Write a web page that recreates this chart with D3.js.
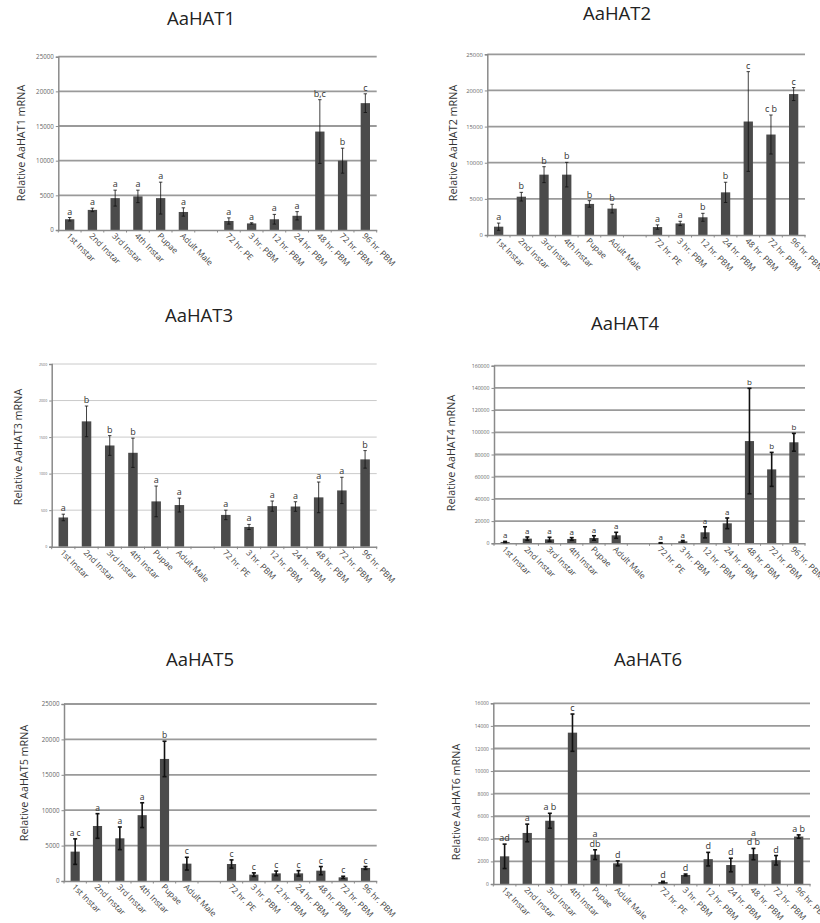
<!DOCTYPE html>
<html><head><meta charset="utf-8">
<script src="https://cdn.jsdelivr.net/npm/d3@7"></script>
<style>body{margin:0;background:#fff}svg{display:block}</style>
</head><body>
<svg id="chart" width="820" height="923"></svg>
<script>
// ---------------- DATA ----------------
const categories = ["1st Instar","2nd Instar","3rd Instar","4th Instar","Pupae","Adult Male","",
  "72 hr. PE","3 hr. PBM","12 hr. PBM","24 hr. PBM","48 hr. PBM","72 hr. PBM","96 hr. PBM"];

const hat1Values = [1550,2900,4600,4850,4600,2600,null,1300,950,1550,2050,14200,10000,18300];
const hat1Errors = [250,250,1150,900,2300,600,null,450,100,700,600,4600,1800,1350];
const hat1Letters = ["a","a","a","a","a","a","","a","a","a","a","b,c","b","c"];
const hat1Ticks = [0,5000,10000,15000,20000,25000];

const hat2Values = [1150,5300,8350,8350,4300,3650,null,1100,1600,2450,5900,15700,13900,19500];
const hat2Errors = [500,600,1100,1700,450,600,null,300,300,550,1400,6900,2700,900];
const hat2Letters = ["a","b","b","b","b","b","","a","a","b","b","c","c b","c"];
const hat2Ticks = [0,5000,10000,15000,20000,25000];

const hat3Values = [400,1715,1385,1285,620,570,null,435,270,555,550,675,770,1195];
const hat3Errors = [45,210,135,200,210,95,null,65,35,70,65,210,180,120];
const hat3Letters = ["a","b","b","b","a","a","","a","a","a","a","a","a","b"];
const hat3Ticks = [0,500,1000,1500,2000,2500];

const hat4Values = [1200,4200,3600,3900,4800,7200,null,300,1800,9900,18000,92100,66600,91000];
const hat4Errors = [500,1500,1800,1200,2000,2700,null,200,700,5000,4800,47500,15300,8000];
const hat4Letters = ["a","a","a","a","a","a","","a","a","a","a","b","b","b"];
const hat4Ticks = [0,20000,40000,60000,80000,100000,120000,140000,160000];

const hat5Values = [4150,7770,6030,9300,17240,2450,null,2400,900,1080,1080,1460,520,1840];
const hat5Errors = [1800,1740,1600,1750,2500,900,null,580,250,330,380,580,150,200];
const hat5Letters = ["a c","a","a","a","b","c","","c","c","c","c","c","c","c"];
const hat5Ticks = [0,5000,10000,15000,20000,25000];

const hat6Values = [2450,4520,5600,13400,2600,1830,null,180,800,2200,1680,2650,2100,4200];
const hat6Errors = [1080,780,660,1650,430,220,null,60,80,600,600,500,420,150];
const hat6Letters = ["ad","a","a b","c","a\ndb","d","","d","d","d","d","a\nd b","d","a b"];
const hat6Ticks = [0,2000,4000,6000,8000,10000,12000,14000,16000];

// ---------------- LAYOUT ----------------
const panels = [
  {title:"AaHAT1", v:hat1Values, e:hat1Errors, l:hat1Letters, t:hat1Ticks,
   left:58.3, right:376.7, top:56.7, bottom:230, titleX:201, titleY:25, yTitleX:21.7, yTitleY:143,
   thinGrid:false, errW:0.8, capW:3.4, tickFont:6.2, letterFont:9},
  {title:"AaHAT2", v:hat2Values, e:hat2Errors, l:hat2Letters, t:hat2Ticks,
   left:487.3, right:805, top:54.3, bottom:235, titleX:617, titleY:20, yTitleX:453, yTitleY:143,
   thinGrid:false, errW:0.8, capW:3.4, tickFont:5.8, letterFont:9},
  {title:"AaHAT3", v:hat3Values, e:hat3Errors, l:hat3Letters, t:hat3Ticks,
   left:51.7, right:376.7, top:364, bottom:546.7, titleX:199, titleY:322, yTitleX:18.3, yTitleY:447,
   thinGrid:true, errW:0.8, capW:3.4, tickFont:3.6, letterFont:9},
  {title:"AaHAT4", v:hat4Values, e:hat4Errors, l:hat4Letters, t:hat4Ticks,
   left:494, right:805, top:365.7, bottom:543.3, titleX:625, titleY:330, yTitleX:451.7, yTitleY:453,
   thinGrid:false, errW:1.6, capW:4, tickFont:5.2, letterFont:8},
  {title:"AaHAT5", v:hat5Values, e:hat5Errors, l:hat5Letters, t:hat5Ticks,
   left:64, right:376.7, top:704, bottom:881, titleX:200, titleY:666, yTitleX:24, yTitleY:783,
   thinGrid:false, errW:1.6, capW:4, tickFont:6.2, letterFont:8.5},
  {title:"AaHAT6", v:hat6Values, e:hat6Errors, l:hat6Letters, t:hat6Ticks,
   left:493.3, right:810, top:703.3, bottom:884, titleX:648, titleY:666, yTitleX:456.7, yTitleY:802,
   thinGrid:false, errW:1.6, capW:4, tickFont:4.9, letterFont:9}
];

const FONT = "'Open Sans', 'DejaVu Sans', sans-serif";
const svg = d3.select("#chart").style("font-family", FONT);

panels.forEach(p => {
  const g = svg.append("g");
  const idx = d3.range(categories.length);
  const x = d3.scaleBand().domain(idx).range([p.left, p.right]).paddingInner(0.59).paddingOuter(0.295);
  const y = d3.scaleLinear().domain([0, d3.max(p.t)]).range([p.bottom, p.top]);
  const step = x.step();

  // title
  g.append("text").attr("x", p.titleX).attr("y", p.titleY).attr("text-anchor","middle")
    .attr("font-size", 18.5).attr("fill","#222").text(p.title);

  // y title
  g.append("text").attr("transform", `translate(${p.yTitleX},${p.yTitleY}) rotate(-90)`)
    .attr("text-anchor","middle").attr("dy","0.35em").attr("font-size", 10.8).attr("fill","#333")
    .text(`Relative ${p.title} mRNA`);

  // grid lines
  g.append("g").selectAll("line").data(p.t.filter(d => d > 0)).join("line")
    .attr("x1", p.left).attr("x2", p.right).attr("y1", d => y(d)).attr("y2", d => y(d))
    .attr("stroke", p.thinGrid ? "#c4c4c4" : "#9a9a9a").attr("stroke-width", p.thinGrid ? 0.9 : 1.8);

  // y axis
  const ya = g.append("g").attr("transform", `translate(${p.left},0)`)
    .call(d3.axisLeft(y).tickValues(p.t).tickSize(2.5).tickPadding(2).tickFormat(d3.format("d")));
  ya.select(".domain").attr("stroke","#8a8a8a").attr("stroke-width",1.5);
  ya.selectAll(".tick line").attr("stroke","#8a8a8a");
  ya.selectAll(".tick text").attr("font-size", p.tickFont).attr("fill","#666").attr("font-family", FONT);

  // bars
  const data = idx.filter(i => p.v[i] != null);
  g.append("g").selectAll("rect").data(data).join("rect")
    .attr("x", i => x(i)).attr("width", x.bandwidth())
    .attr("y", i => y(p.v[i])).attr("height", i => y(0) - y(p.v[i]))
    .attr("fill", "#4b4b4b");

  // x axis
  const xa = g.append("g").attr("transform", `translate(0,${p.bottom})`)
    .call(d3.axisBottom(x).tickSize(0).tickPadding(0).tickFormat(i => categories[i]));
  xa.select(".domain").attr("stroke","#8a8a8a").attr("stroke-width",1.5);
  xa.selectAll(".tick text").attr("font-size", 8.4).attr("fill","#444").attr("font-family", FONT)
    .attr("text-anchor","start").attr("transform","translate(-1.5,4.5) rotate(45)").attr("dy","0.35em").attr("y",0);
  // boundary ticks
  g.append("g").selectAll("line").data(d3.range(categories.length + 1)).join("line")
    .attr("x1", i => p.left + i * step).attr("x2", i => p.left + i * step)
    .attr("y1", p.bottom).attr("y2", p.bottom + 2.5)
    .attr("stroke","#8a8a8a").attr("stroke-width",1);

  // error bars
  const eg = g.append("g").attr("stroke","#111").attr("stroke-width", p.errW);
  data.forEach(i => {
    const cx = x(i) + x.bandwidth() / 2;
    const y1 = y(p.v[i] + p.e[i]), y0 = y(Math.max(0, p.v[i] - p.e[i]));
    eg.append("line").attr("x1",cx).attr("x2",cx).attr("y1",y1).attr("y2",y0);
    eg.append("line").attr("x1",cx-p.capW/2).attr("x2",cx+p.capW/2).attr("y1",y1).attr("y2",y1);
    eg.append("line").attr("x1",cx-p.capW/2).attr("x2",cx+p.capW/2).attr("y1",y0).attr("y2",y0);
  });

  // significance letters
  data.forEach(i => {
    const cx = x(i) + x.bandwidth() / 2;
    const base = y(p.v[i] + p.e[i]) - 3;
    const lines = p.l[i].split("\n").reverse();
    lines.forEach((ln, k) => {
      g.append("text").attr("x", cx).attr("y", base - k * p.letterFont * 1.05)
        .attr("text-anchor","middle").attr("font-size", p.letterFont).attr("fill","#333").text(ln);
    });
  });
});
</script>
</body></html>
